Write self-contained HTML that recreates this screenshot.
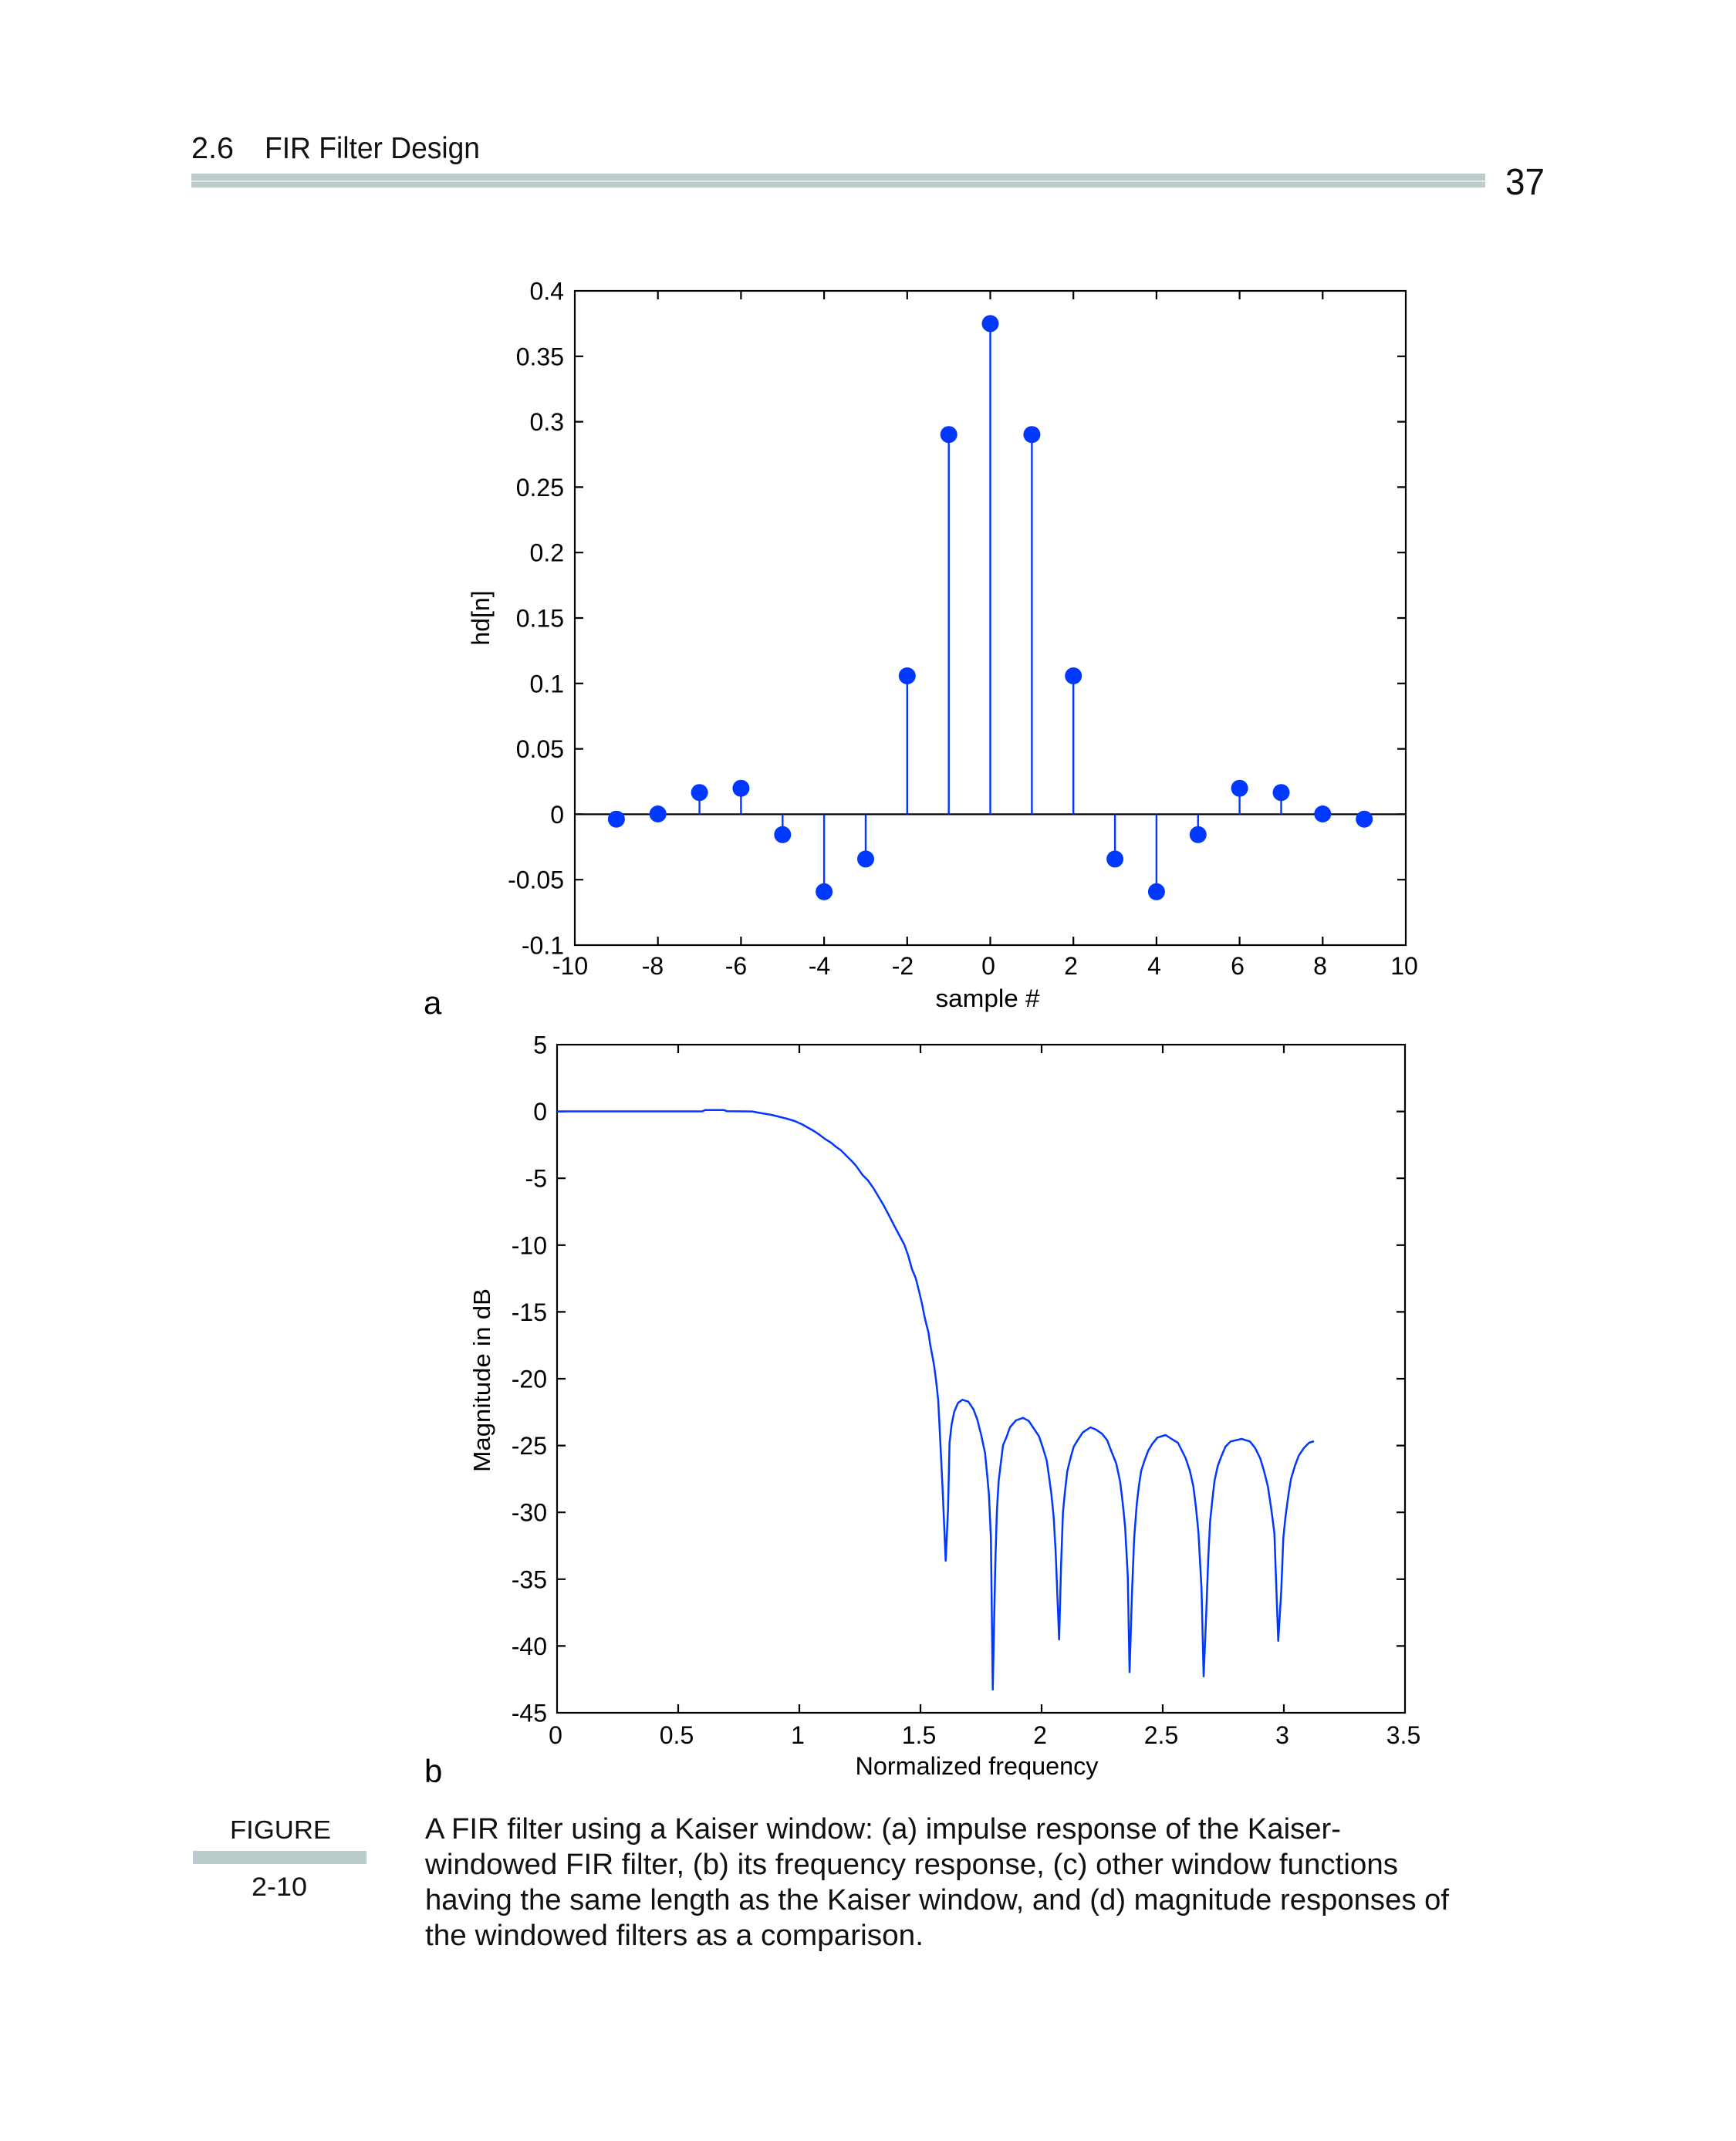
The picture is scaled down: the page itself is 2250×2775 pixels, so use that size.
<!DOCTYPE html>
<html>
<head>
<meta charset="utf-8">
<style>
  html, body { margin: 0; padding: 0; background: #ffffff; }
  svg { display: block; }
  .tick { font-family: "Liberation Sans", Arial, sans-serif; font-size: 32px; fill: #000; }
  .lab { font-family: "Liberation Sans", Arial, sans-serif; fill: #000; }
  .book { font-family: "Liberation Sans", Arial, sans-serif; fill: #111; }
</style>
</head>
<body>
<svg width="2250" height="2775" viewBox="0 0 2250 2775" xmlns="http://www.w3.org/2000/svg">
  <rect x="0" y="0" width="2250" height="2775" fill="#ffffff"/>

  <!-- Header -->
  <text class="book" x="248" y="205" font-size="39" textLength="55" lengthAdjust="spacingAndGlyphs">2.6</text>
  <text class="book" x="343" y="205" font-size="39" textLength="279" lengthAdjust="spacingAndGlyphs">FIR Filter Design</text>
  <rect x="248" y="225" width="1677" height="18" fill="#bccbcb"/>
  <rect x="248" y="234" width="1677" height="1.6" fill="#eef3f3"/>
  <text class="book" x="1951" y="252" font-size="48" textLength="51" lengthAdjust="spacingAndGlyphs">37</text>

  <!-- ================= Plot a ================= -->
  <g stroke="#000" stroke-width="2.2" fill="none">
    <rect x="745" y="377" width="1077" height="848"/>
    <line x1="745" y1="1055.4" x2="1822" y2="1055.4"/>
    <path d="M852.7,1225v-11M960.4,1225v-11M1068.1,1225v-11M1175.8,1225v-11M1283.5,1225v-11M1391.2,1225v-11M1498.9,1225v-11M1606.6,1225v-11M1714.3,1225v-11
             M852.7,377v11M960.4,377v11M1068.1,377v11M1175.8,377v11M1283.5,377v11M1391.2,377v11M1498.9,377v11M1606.6,377v11M1714.3,377v11"/>
    <path d="M745,461.8h11M745,546.6h11M745,631.4h11M745,716.2h11M745,801h11M745,885.8h11M745,970.6h11M745,1055.4h11M745,1140.2h11
             M1822,461.8h-11M1822,546.6h-11M1822,631.4h-11M1822,716.2h-11M1822,801h-11M1822,885.8h-11M1822,970.6h-11M1822,1055.4h-11M1822,1140.2h-11"/>
  </g>
  <g class="tick" text-anchor="end">
    <text x="731" y="388.5">0.4</text>
    <text x="731" y="473.3">0.35</text>
    <text x="731" y="558.1">0.3</text>
    <text x="731" y="642.9">0.25</text>
    <text x="731" y="727.7">0.2</text>
    <text x="731" y="812.5">0.15</text>
    <text x="731" y="897.3">0.1</text>
    <text x="731" y="982.1">0.05</text>
    <text x="731" y="1066.9">0</text>
    <text x="731" y="1151.7">-0.05</text>
    <text x="731" y="1236.5">-0.1</text>
  </g>
  <g class="tick" text-anchor="middle">
    <text x="739" y="1263">-10</text>
    <text x="846" y="1263">-8</text>
    <text x="954" y="1263">-6</text>
    <text x="1062" y="1263">-4</text>
    <text x="1170" y="1263">-2</text>
    <text x="1281" y="1263">0</text>
    <text x="1388" y="1263">2</text>
    <text x="1496" y="1263">4</text>
    <text x="1604" y="1263">6</text>
    <text x="1711" y="1263">8</text>
    <text x="1820" y="1263">10</text>
  </g>
  <text class="lab" x="1280" y="1305" font-size="32" text-anchor="middle" textLength="135" lengthAdjust="spacingAndGlyphs">sample #</text>
  <text class="lab" transform="translate(634,801) rotate(-90)" font-size="32" text-anchor="middle">hd[n]</text>
  <text class="lab" x="549" y="1314" font-size="42">a</text>

  <g stroke="#0038ff" stroke-width="2.4">
    <line x1="798.9" y1="1055.4" x2="798.9" y2="1061.7"/>
    <line x1="906.6" y1="1055.4" x2="906.6" y2="1027.2"/>
    <line x1="960.4" y1="1055.4" x2="960.4" y2="1021.7"/>
    <line x1="1014.3" y1="1055.4" x2="1014.3" y2="1081.8"/>
    <line x1="1068.1" y1="1055.4" x2="1068.1" y2="1155.8"/>
    <line x1="1122" y1="1055.4" x2="1122" y2="1113.4"/>
    <line x1="1175.8" y1="1055.4" x2="1175.8" y2="876"/>
    <line x1="1229.7" y1="1055.4" x2="1229.7" y2="563.2"/>
    <line x1="1283.5" y1="1055.4" x2="1283.5" y2="419.4"/>
    <line x1="1337.4" y1="1055.4" x2="1337.4" y2="563.2"/>
    <line x1="1391.2" y1="1055.4" x2="1391.2" y2="876"/>
    <line x1="1445.1" y1="1055.4" x2="1445.1" y2="1113.4"/>
    <line x1="1498.9" y1="1055.4" x2="1498.9" y2="1155.8"/>
    <line x1="1552.8" y1="1055.4" x2="1552.8" y2="1081.8"/>
    <line x1="1606.6" y1="1055.4" x2="1606.6" y2="1021.7"/>
    <line x1="1660.5" y1="1055.4" x2="1660.5" y2="1027.2"/>
    <line x1="1768.2" y1="1055.4" x2="1768.2" y2="1061.7"/>
  </g>
  <g fill="#0038ff">
    <circle cx="798.9" cy="1061.7" r="11"/>
    <circle cx="852.7" cy="1055" r="11"/>
    <circle cx="906.6" cy="1027.2" r="11"/>
    <circle cx="960.4" cy="1021.7" r="11"/>
    <circle cx="1014.3" cy="1081.8" r="11"/>
    <circle cx="1068.1" cy="1155.8" r="11"/>
    <circle cx="1122" cy="1113.4" r="11"/>
    <circle cx="1175.8" cy="876" r="11"/>
    <circle cx="1229.7" cy="563.2" r="11"/>
    <circle cx="1283.5" cy="419.4" r="11"/>
    <circle cx="1337.4" cy="563.2" r="11"/>
    <circle cx="1391.2" cy="876" r="11"/>
    <circle cx="1445.1" cy="1113.4" r="11"/>
    <circle cx="1498.9" cy="1155.8" r="11"/>
    <circle cx="1552.8" cy="1081.8" r="11"/>
    <circle cx="1606.6" cy="1021.7" r="11"/>
    <circle cx="1660.5" cy="1027.2" r="11"/>
    <circle cx="1714.3" cy="1055" r="11"/>
    <circle cx="1768.2" cy="1061.7" r="11"/>
  </g>

  <!-- ================= Plot b ================= -->
  <g stroke="#000" stroke-width="2.2" fill="none">
    <rect x="722" y="1354" width="1099" height="866"/>
    <path d="M879,2220v-11M1036,2220v-11M1193,2220v-11M1350,2220v-11M1507,2220v-11M1664,2220v-11
             M879,1354v11M1036,1354v11M1193,1354v11M1350,1354v11M1507,1354v11M1664,1354v11"/>
    <path d="M722,1440.6h11M722,1527.2h11M722,1613.8h11M722,1700.4h11M722,1787h11M722,1873.6h11M722,1960.2h11M722,2046.8h11M722,2133.4h11
             M1821,1440.6h-11M1821,1527.2h-11M1821,1613.8h-11M1821,1700.4h-11M1821,1787h-11M1821,1873.6h-11M1821,1960.2h-11M1821,2046.8h-11M1821,2133.4h-11"/>
  </g>
  <g class="tick" text-anchor="end">
    <text x="709" y="1365.5">5</text>
    <text x="709" y="1452.1">0</text>
    <text x="709" y="1538.7">-5</text>
    <text x="709" y="1625.3">-10</text>
    <text x="709" y="1711.9">-15</text>
    <text x="709" y="1798.5">-20</text>
    <text x="709" y="1885.1">-25</text>
    <text x="709" y="1971.7">-30</text>
    <text x="709" y="2058.3">-35</text>
    <text x="709" y="2144.9">-40</text>
    <text x="709" y="2231.5">-45</text>
  </g>
  <g class="tick" text-anchor="middle">
    <text x="720" y="2260">0</text>
    <text x="877" y="2260">0.5</text>
    <text x="1034" y="2260">1</text>
    <text x="1191" y="2260">1.5</text>
    <text x="1348" y="2260">2</text>
    <text x="1505" y="2260">2.5</text>
    <text x="1662" y="2260">3</text>
    <text x="1819" y="2260">3.5</text>
  </g>
  <text class="lab" x="1266" y="2300" font-size="32" text-anchor="middle" textLength="315" lengthAdjust="spacingAndGlyphs">Normalized frequency</text>
  <text class="lab" transform="translate(635,1789) rotate(-90)" font-size="31" text-anchor="middle" textLength="238" lengthAdjust="spacingAndGlyphs">Magnitude in dB</text>
  <text class="lab" x="550" y="2310" font-size="42">b</text>

  <polyline fill="none" stroke="#0038ff" stroke-width="2.5" stroke-linejoin="round" points="
    722,1440.5 910,1440.5 914,1438.7 938,1438.7 942,1440.2 975,1440.6 985,1442.5 1000,1445 1010,1447.5 1020,1450
    1030,1453 1040,1457.5 1047,1461.5 1055,1466 1062,1470.7 1070,1476.7 1077,1481 1083,1486 1090,1491 1097,1498
    1105,1506 1110,1511.7 1118,1523 1125,1530 1132,1540 1138,1550 1145,1561.7 1152,1575 1158,1586.7 1165,1600
    1172,1613 1177,1627 1182,1645 1187,1657 1191,1673 1195,1690 1198.3,1706.7 1200.7,1716.7 1203.3,1726.7
    1205.7,1743.3 1208.3,1756.7 1210.7,1770 1213.3,1790 1216,1815 1218.3,1860 1221.7,1930 1225.7,2023
    1228.7,1956.7 1230.7,1870 1233.3,1846.7 1236.7,1830 1241.7,1818.3 1247.3,1814.3 1255,1816.7 1261.7,1826.7
    1266.7,1840 1271.7,1860 1276.7,1883.3 1279.3,1910 1281.7,1936.7 1284.3,1993.3 1286.7,2190
    1290,2026.7 1292,1960 1294.3,1920 1296.7,1900 1300,1873.3 1304.3,1863.3 1309,1850 1316.7,1841 1326,1837.7
    1333.3,1841.7 1340,1851.7 1346.7,1861.7 1351.7,1876.7 1356.7,1893.3 1360,1916.7 1362.7,1936.7 1365.7,1966.7
    1368.3,2013.3 1372.7,2125 1375.3,2026.7 1377.7,1960 1380.3,1933.3 1383.3,1906.7 1388.3,1886.7 1391.7,1875
    1396.7,1866.7 1403.3,1856.7 1413.3,1850 1420,1852.7 1428.3,1858.3 1435,1866.7 1440,1880 1446.7,1896.7
    1451.7,1920 1455,1946.7 1458.3,1980 1461.7,2043.3 1464,2167.3 1467.3,2060 1470,1993.3 1473.3,1950
    1476,1926.7 1479,1906.7 1483.3,1893.3 1488.3,1880 1493.3,1871.7 1500,1863.3 1510.7,1860 1520,1866
    1526.7,1870 1531.7,1880 1536.7,1890 1542.3,1906.7 1546.7,1926.7 1550,1953.3 1553.3,1986.7 1557.3,2060
    1560,2172.7 1563.3,2093.3 1566,2020 1568.3,1973.3 1571,1946.7 1574,1920 1578.3,1900 1583.3,1886.7
    1588.3,1875 1595,1868.3 1609.3,1865 1620,1868.3 1626.7,1876.7 1633.3,1890 1638.3,1906.7 1643.3,1926.7
    1647.3,1953.3 1651.7,1986.7 1654.3,2060 1656.7,2126.7 1660.7,2060 1663.3,1993.3 1666,1966.7 1670,1936.7
    1673.3,1916.7 1678.3,1900 1683.3,1886.7 1690,1876.7 1696.7,1870 1703,1868"/>

  <!-- ================= Caption ================= -->
  <text class="book" x="298" y="2383" font-size="33" textLength="131" lengthAdjust="spacingAndGlyphs">FIGURE</text>
  <rect x="250" y="2399" width="225" height="17" fill="#bccbcb"/>
  <text class="book" x="326" y="2457" font-size="34" textLength="72" lengthAdjust="spacingAndGlyphs">2-10</text>

  <g class="book" font-size="38">
    <text x="551" y="2383" textLength="1187" lengthAdjust="spacingAndGlyphs">A FIR filter using a Kaiser window: (a) impulse response of the Kaiser-</text>
    <text x="551" y="2429" textLength="1261" lengthAdjust="spacingAndGlyphs">windowed FIR filter, (b) its frequency response, (c) other window functions</text>
    <text x="551" y="2475" textLength="1327" lengthAdjust="spacingAndGlyphs">having the same length as the Kaiser window, and (d) magnitude responses of</text>
    <text x="551" y="2521" textLength="646" lengthAdjust="spacingAndGlyphs">the windowed filters as a comparison.</text>
  </g>
</svg>
</body>
</html>
